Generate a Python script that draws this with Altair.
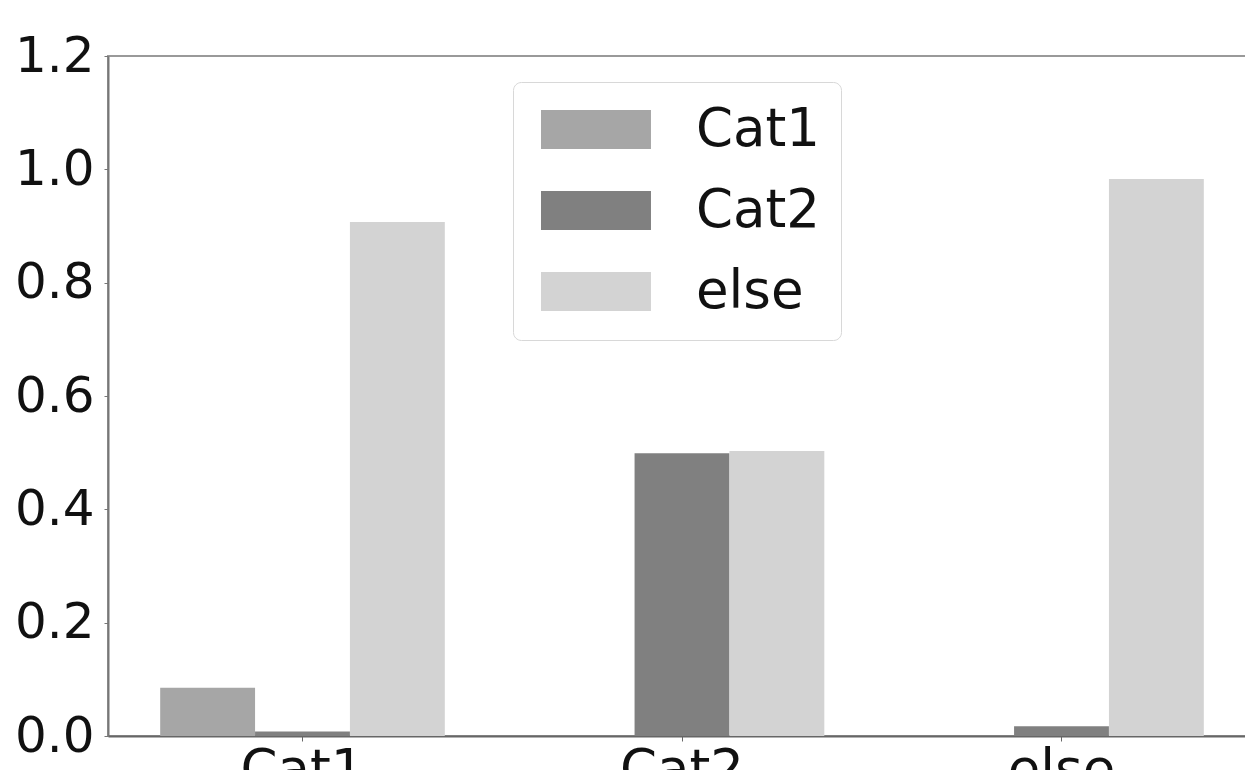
import altair as alt
import pandas as pd

groups = ["Cat1", "Cat2", "else"]
series = ["Cat1", "Cat2", "else"]
vals_cat1 = [0.085, 0.0, 0.0]
vals_cat2 = [0.008, 0.499, 0.017]
vals_else = [0.907, 0.503, 0.983]
colors = ["#a6a6a6", "#808080", "#d3d3d3"]

rows = []
for i, g in enumerate(groups):
    for s, v in zip(series, [vals_cat1[i], vals_cat2[i], vals_else[i]]):
        rows.append({"group": g, "series": s, "value": v})
df = pd.DataFrame(rows)

FONT = "DejaVu Sans"

legend = alt.Legend(
    title=None, orient="none", legendX=405, legendY=26,
    symbolType="M-1,-1L4.64,-1L4.64,1L-1,1Z",
    symbolSize=1521, symbolStrokeWidth=0,
    labelFontSize=53, labelFont=FONT, labelColor="#111",
    labelOffset=109, rowPadding=27, padding=21,
    strokeColor="#d8d8d8", fillColor="rgba(255,255,255,0.8)",
    cornerRadius=8,
)

chart = alt.Chart(df).mark_bar().encode(
    x=alt.X("group:N", sort=groups, title=None,
            scale=alt.Scale(paddingInner=0.25, paddingOuter=0.1375),
            axis=alt.Axis(labelAngle=0, labelFontSize=53, labelFont=FONT,
                          labelColor="#111", tickSize=5, tickColor="#666",
                          labelPadding=3, domainColor="#666", domainWidth=2)),
    xOffset=alt.XOffset("series:N", sort=series, scale=alt.Scale(paddingInner=0, paddingOuter=0)),
    y=alt.Y("value:Q", title=None,
            scale=alt.Scale(domain=[0, 1.2], nice=False),
            axis=alt.Axis(values=[0, 0.2, 0.4, 0.6, 0.8, 1.0, 1.2], format=".1f",
                          labelFontSize=50, labelFont=FONT, labelColor="#111",
                          tickSize=4, tickColor="#777", labelPadding=10,
                          domainColor="#777", domainWidth=2, grid=False)),
    color=alt.Color("series:N", sort=series,
                    scale=alt.Scale(domain=series, range=colors),
                    legend=legend),
).properties(
    width=1148, height=680,
    autosize=alt.AutoSizeParams(type="none"),
    padding={"left": 100, "top": 48, "right": -11, "bottom": 34},
).configure_view(
    stroke="#999", strokeWidth=2
)

chart.save("out.html", embed_options={"renderer": "svg", "actions": False})
